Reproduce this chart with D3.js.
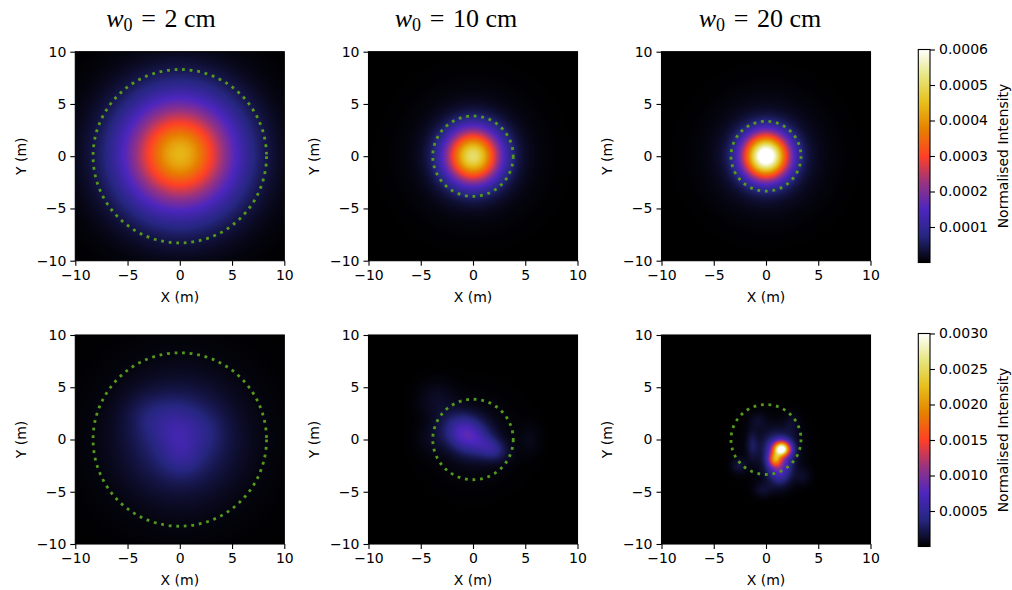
<!DOCTYPE html>
<html>
<head>
<meta charset="utf-8">
<script src="https://cdn.jsdelivr.net/npm/d3@7"></script>
<style>
  body { margin: 0; background: #fff; }
  text { font-family: "DejaVu Sans", sans-serif; fill: #000; }
</style>
</head>
<body>
<script>
// ---- data ----
const waistsCm = ["2", "10", "20"];            // column titles, w0 in cm
const circleRadius = [8.3, 3.85, 3.35];         // dotted reference circle, m
const axisTicks = [-10, -5, 0, 5, 10];
const colorMax = [0.0006, 0.003];               // top row, bottom row
const cbarTicksTop = [0.0001, 0.0002, 0.0003, 0.0004, 0.0005, 0.0006];
const cbarTicksBottom = [0.0005, 0.0010, 0.0015, 0.0020, 0.0025, 0.0030];
const cbarLabel = "Normalised Intensity";

// intensity spots: [cx, cy, rx, ry, angleDeg, peak], 1/e^2 radii in m
const spotsVac2 = [[0, 0.2, 7.6, 7.6, 0, 0.00036], [0, 0.2, 3.2, 3.2, 0, 0.00005], [0, 0, 11, 11, 0, 0.00003]];
const spotsVac10 = [[0, 0, 3.6, 3.6, 0, 0.00047], [0, 0, 7, 7, 0, 0.00004]];
const spotsVac20 = [[0, 0, 3.0, 3.0, 0, 0.00061], [0, 0, 6.5, 6.5, 0, 0.00005]];
const spotsTurb2 = [
  [0, 0, 7.0, 7.0, 0, 0.00034], [-1.0, 1.8, 3.5, 3.0, 0, 0.00014],
  [2, 0.8, 3, 3, 0, 0.00009], [0.3, -1.8, 2.5, 2.5, 0, 0.0001],
  [-0.2, -0.2, 2.4, 3.0, 0, 0.00012],
  [-3.5, 2.5, 3, 3, 0, 0.00006], [0, 0, 12, 12, 0, 0.00007]
];
const spotsTurb10 = [
  [-0.6, 0.5, 3.0, 2.3, -28, 0.00074], [1.8, -0.9, 2.0, 1.4, -20, 0.00036],
  [-3.5, 3.8, 2.5, 2.5, 0, 0.0001], [5.5, 0, 1.5, 2.2, 0, 0.00006],
  [-4, 0, 2, 2, 0, 0.00006], [0, 0, 5.5, 5.5, 0, 0.00008]
];
const spotsTurb20 = [
  [1.5, -0.9, 1.1, 0.95, 0, 0.0027], [0.85, -1.9, 0.85, 0.95, 0, 0.0013],
  [1.3, -2.8, 1.5, 2.0, 0, 0.0007], [1.2, -0.9, 2.0, 2.2, 0, 0.00045],
  [-1.3, -0.5, 0.7, 1.8, 0, 0.0002], [-2.6, -2.5, 1.0, 1.0, 0, 0.00016],
  [-0.3, -4.8, 1.2, 1.0, 0, 0.00013], [2.5, 1.5, 1, 1.5, 0, 0.0001],
  [-0.8, 1.8, 1.2, 1.2, 0, 0.0001], [3.5, -3.5, 1.2, 1.2, 0, 0.0001],
  [0.5, -1, 4, 4, 0, 0.00009]
];
const panelSpots = [[spotsVac2, spotsVac10, spotsVac20], [spotsTurb2, spotsTurb10, spotsTurb20]];

// matplotlib CMRmap, 9 evenly spaced stops
const cmrStops = ["rgb(0,0,0)", "rgb(38,38,128)", "rgb(77,38,191)", "rgb(153,51,128)",
  "rgb(255,64,38)", "rgb(230,128,0)", "rgb(230,191,26)", "rgb(230,230,128)", "rgb(255,255,255)"];
const cmr = d3.piecewise(d3.interpolateRgb, cmrStops);

// ---- layout ----
const W = 1012, H = 590;
const size = 209;
const lefts = [75.3, 368.5, 661.5];
const tops = [51.7, 335];
const cbar = { x: 918.3, w: 11.7, tops: [49.5, 333.5], h: 213 };
const titleX = [161, 456, 760];

const svg = d3.select("body").append("svg").attr("width", W).attr("height", H);
const defs = svg.append("defs");

function field(spots, x, y) {
  let v = 0;
  for (const [cx, cy, rx, ry, ang, amp] of spots) {
    const a = ang * Math.PI / 180, dx = x - cx, dy = y - cy;
    const u = dx * Math.cos(a) + dy * Math.sin(a);
    const w = -dx * Math.sin(a) + dy * Math.cos(a);
    v += amp * Math.exp(-2 * (u * u / (rx * rx) + w * w / (ry * ry)));
  }
  return v;
}

tops.forEach((top, r) => {
  const color = d3.scaleSequential(cmr).domain([0, colorMax[r]]).clamp(true);
  lefts.forEach((left, c) => {
    const x = d3.scaleLinear().domain([-10, 10]).range([left, left + size]);
    const y = d3.scaleLinear().domain([-10, 10]).range([top + size, top]);
    const g = svg.append("g");

    // heat map cells, one per screen pixel
    const n = 210;
    const canvas = document.createElement("canvas");
    canvas.width = n; canvas.height = n;
    const ctx = canvas.getContext("2d");
    const img = ctx.createImageData(n, n);
    for (let j = 0; j < n; j++) {
      for (let i = 0; i < n; i++) {
        const xv = x.invert(left + (i + 0.5) * size / n);
        const yv = y.invert(top + (j + 0.5) * size / n);
        const col = d3.rgb(color(field(panelSpots[r][c], xv, yv)));
        const k = (j * n + i) * 4;
        img.data[k] = col.r; img.data[k + 1] = col.g; img.data[k + 2] = col.b; img.data[k + 3] = 255;
      }
    }
    ctx.putImageData(img, 0, 0);
    g.append("image").attr("href", canvas.toDataURL())
      .attr("x", left).attr("y", top).attr("width", size).attr("height", size)
      .attr("preserveAspectRatio", "none");

    // dotted reference circle
    g.append("circle")
      .attr("cx", x(0)).attr("cy", y(0))
      .attr("r", x(circleRadius[c]) - x(0))
      .attr("fill", "none").attr("stroke", "#559a1c")
      .attr("stroke-width", 2.8).attr("stroke-dasharray", "2.8 4.8");

    // axes
    const ax = g.append("g").attr("transform", `translate(0,${top + size})`)
      .call(d3.axisBottom(x).tickValues(axisTicks).tickSize(5).tickPadding(4));
    const ay = g.append("g").attr("transform", `translate(${left},0)`)
      .call(d3.axisLeft(y).tickValues(axisTicks).tickSize(5).tickPadding(4));
    [ax, ay].forEach(a => {
      a.select(".domain").remove();
      a.selectAll(".tick line").attr("stroke", "#000").attr("stroke-width", 1.1);
      a.selectAll(".tick text").attr("font-size", 14).attr("font-family", "DejaVu Sans");
    });
    g.append("rect").attr("x", left).attr("y", top).attr("width", size).attr("height", size)
      .attr("fill", "none").attr("stroke", "#000").attr("stroke-width", 1.1);

    g.append("text").attr("x", x(0)).attr("y", top + size + 41)
      .attr("text-anchor", "middle").attr("font-size", 14).text("X (m)");
    g.append("text")
      .attr("transform", `translate(${left - 54},${y(0)}) rotate(-90)`)
      .attr("text-anchor", "middle").attr("dy", "0.35em").attr("font-size", 14).text("Y (m)");
  });

  // colorbar
  const grad = defs.append("linearGradient").attr("id", "cb" + r)
    .attr("x1", 0).attr("y1", 1).attr("x2", 0).attr("y2", 0);
  cmrStops.forEach((s, i) => grad.append("stop").attr("offset", i / (cmrStops.length - 1)).attr("stop-color", s));
  const cTop = cbar.tops[r];
  const cs = d3.scaleLinear().domain([0, colorMax[r]]).range([cTop + cbar.h, cTop]);
  svg.append("rect").attr("x", cbar.x).attr("y", cTop).attr("width", cbar.w).attr("height", cbar.h)
    .attr("fill", `url(#cb${r})`).attr("stroke", "#000").attr("stroke-width", 1.1);
  const ca = svg.append("g").attr("transform", `translate(${cbar.x + cbar.w},0)`)
    .call(d3.axisRight(cs).tickValues(r === 0 ? cbarTicksTop : cbarTicksBottom)
      .tickSize(5).tickPadding(4).tickFormat(d3.format(".4f")));
  ca.select(".domain").remove();
  ca.selectAll(".tick line").attr("stroke", "#000").attr("stroke-width", 1.1);
  ca.selectAll(".tick text").attr("font-size", 14).attr("font-family", "DejaVu Sans");
  svg.append("text")
    .attr("transform", `translate(1003,${cTop + cbar.h / 2}) rotate(-90)`)
    .attr("text-anchor", "middle").attr("dy", "0.35em").attr("font-size", 14).text(cbarLabel);
});

// column titles
waistsCm.forEach((w, c) => {
  const t = svg.append("text").attr("x", titleX[c]).attr("y", 27)
    .attr("text-anchor", "middle").attr("font-size", 26)
    .style("font-family", "'Liberation Serif', 'DejaVu Serif', serif");
  t.append("tspan").attr("font-style", "italic").text("w");
  t.append("tspan").attr("font-size", 18).attr("dy", 4).text("0");
  t.append("tspan").attr("dy", -4).text(`\u2004=\u2004${w} cm`);
});
</script>
</body>
</html>
